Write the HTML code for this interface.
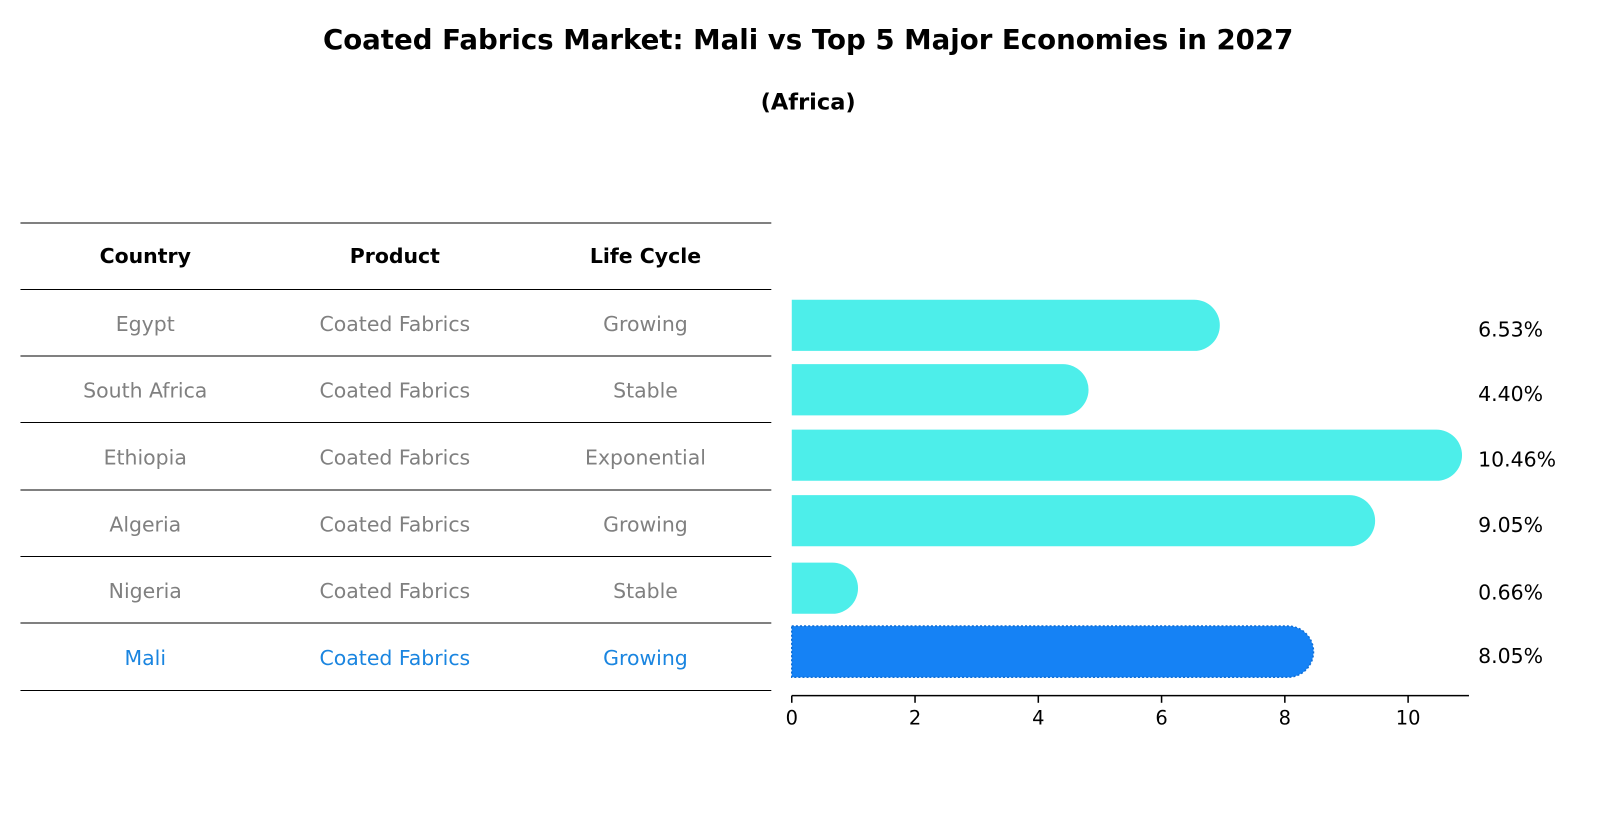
<!DOCTYPE html>
<html><head><meta charset="utf-8"><style>
body{margin:0;background:#fff;font-family:"DejaVu Sans","Liberation Sans",sans-serif;}
svg{display:block;}
</style></head><body>
<svg id="chart" width="1604" height="823" viewBox="0 0 1568 804.5" preserveAspectRatio="none" xmlns="http://www.w3.org/2000/svg" font-family="DejaVu Sans, Liberation Sans, sans-serif">
<rect width="1568" height="805" fill="#fff"/>
<text x="790" y="48" text-anchor="middle" font-size="27" font-weight="bold">Coated Fabrics Market: Mali vs Top 5 Major Economies in 2027</text>
<text x="790" y="107" text-anchor="middle" font-size="22" font-weight="bold">(Africa)</text>
<g id="table"></g>
<g id="bars"></g>
</svg>
<script>
const countries=["Egypt","South Africa","Ethiopia","Algeria","Nigeria","Mali"];
const products=["Coated Fabrics","Coated Fabrics","Coated Fabrics","Coated Fabrics","Coated Fabrics","Coated Fabrics"];
const lifeCycles=["Growing","Stable","Exponential","Growing","Stable","Growing"];
const values=[6.53,4.40,10.46,9.05,0.66,8.05];
const ticks=[0,2,4,6,8,10];

const NS="http://www.w3.org/2000/svg";
function mk(tag,attrs,parent,txt){const e=document.createElementNS(NS,tag);for(const k in attrs)e.setAttribute(k,attrs[k]);if(txt!==undefined)e.textContent=txt;parent.appendChild(e);return e;}
const tbl=document.getElementById('table');
const lines=[218,283,348,413,479,544,609,675];
lines.forEach(y=>{const l=mk('line',{x1:20,x2:754,y1:y,y2:y,stroke:'#000','stroke-width':1},tbl);

});
const colX=[142,386,631];
["Country","Product","Life Cycle"].forEach((h,i)=>{const t=mk('text',{x:colX[i],y:257,'text-anchor':'middle','font-size':20,'font-weight':'bold'},tbl,h);

});
const rowY=i=>(lines[i+1]+lines[i+2])/2+8;
countries.forEach((c,i)=>{const col=c==="Mali"?"#1a85e0":"#808080";
[c,products[i],lifeCycles[i]].forEach((v,j)=>{const t=mk('text',{x:colX[j],y:rowY(i),'text-anchor':'middle','font-size':20,fill:col},tbl,v);

});});

const g=document.getElementById('bars');
const x0=774,pxPer=60.25;
const xs=v=>x0+v*pxPer;
const barCy=[318,381,445,509,575,637];
const r=25;
values.forEach((v,i)=>{const isMali=countries[i]==="Mali";
const cy=barCy[i],xe=xs(v);
const d=`M${x0},${cy-r} L${xe},${cy-r} A${r},${r} 0 0 1 ${xe},${cy+r} L${x0},${cy+r} Z`;
const p=mk('path',{d:d,fill:isMali?'#1582f5':'#4deeea'},g);
if(isMali){p.setAttribute('stroke','#0f6fd8');p.setAttribute('stroke-dasharray','2,2');p.setAttribute('stroke-width','1.5');}


const t=mk('text',{x:1445,y:cy+11,'font-size':20},g,v.toFixed(2)+'%');

});
const ax=mk('line',{x1:x0,x2:1436,y1:680,y2:680,stroke:'#000','stroke-width':1.5},g);


ticks.forEach(tv=>{const x=xs(tv);
const tl=mk('line',{x1:x,x2:x,y1:680,y2:687,stroke:'#000','stroke-width':1.5},g);


const t=mk('text',{x:x,y:708,'text-anchor':'middle','font-size':19},g,String(tv));

});
</script>
</body></html>
